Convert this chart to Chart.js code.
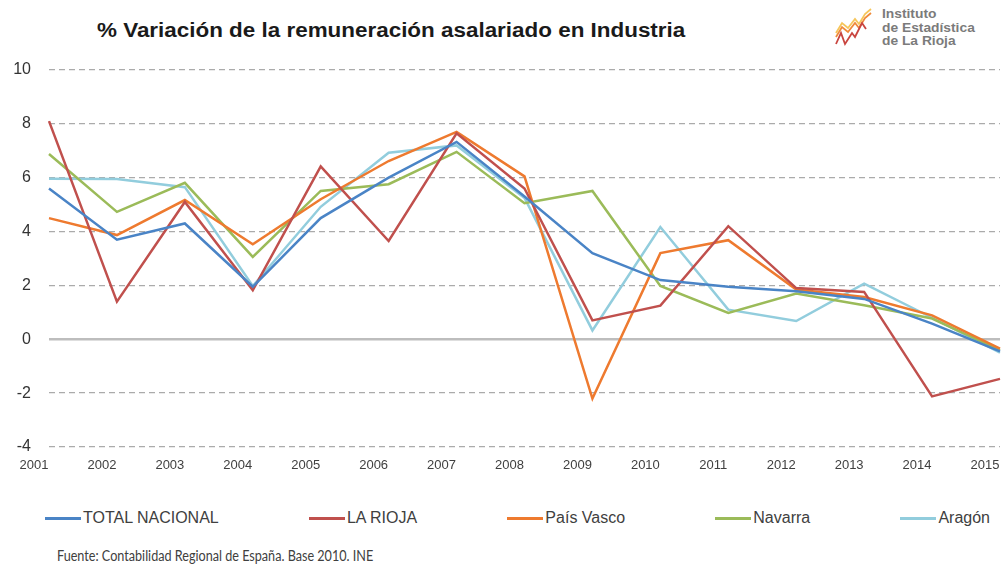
<!DOCTYPE html>
<html>
<head>
<meta charset="utf-8">
<script src="https://cdn.jsdelivr.net/npm/chart.js@4/dist/chart.umd.min.js"></script>
<style>
  body { margin: 0; background: #fff; font-family: "Liberation Sans", Arial, sans-serif; }
  #wrap { position: relative; width: 1002px; height: 567px; overflow: hidden; }
  #titulo { position: absolute; left: 97px; top: 19px; font-weight: bold; font-size: 19.5px; color: #1a1a1a;
            white-space: nowrap; transform: scaleX(1.15); transform-origin: left top; }
  #logo { position: absolute; left: 830px; top: 6px; width: 172px; height: 45px; }
  #logo .txt { position: absolute; left: 52px; top: 2px; font-weight: bold; font-size: 12px; line-height: 13.5px;
               color: #7b7b7b; white-space: nowrap; transform: scaleX(1.15); transform-origin: left top; }
  #grafico { position: absolute; left: 0; top: 0; width: 1002px; height: 494px; }
  #legenda { position: absolute; left: 45px; top: 509px; width: 945px; display: flex; justify-content: space-between; }
  #legenda .item { display: flex; align-items: center; font-size: 16px; color: #404040; white-space: nowrap; }
  #legenda .linha { width: 36px; height: 3px; margin-right: 2px; }
  #fonte { position: absolute; left: 57px; top: 547px; font-family: Lato, "Open Sans", sans-serif; font-size: 14.5px;
           color: #404040; white-space: nowrap; transform: scaleX(0.87); transform-origin: left top; }
</style>
</head>
<body>
<div id="wrap">
  <div id="titulo">% Variación de la remuneración asalariado en Industria</div>
  <div id="logo">
    <svg width="48" height="45" style="position:absolute;left:0;top:0">
      <polyline points="6,27 12,17 18,22 25,13 29,18 35,8 41,3" fill="none" stroke="#f6c65b" stroke-width="1.8"/>
      <polyline points="6,31 12,21 18,26 25,17 29,22 35,12 41,7" fill="none" stroke="#ef8a3a" stroke-width="1.8"/>
      <polyline points="6,38 11,27 15,38 22,27 25,31 32,17 36,23" fill="none" stroke="#c9453f" stroke-width="1.8"/>
    </svg>
    <div class="txt">Instituto<br>de Estadística<br>de La Rioja</div>
  </div>
  <div id="grafico"><canvas id="line-chart"></canvas></div>
  <div id="legenda"></div>
  <div id="fonte">Fuente: Contabilidad Regional de España. Base 2010. INE</div>
</div>

<script>
// datos
var anos = ['2001','2002','2003','2004','2005','2006','2007','2008','2009','2010','2011','2012','2013','2014','2015'];
var series = ['TOTAL NACIONAL', 'LA RIOJA', 'País Vasco', 'Navarra', 'Aragón'];

var totalNacional = [5.6, 3.7, 4.3, 1.95, 4.5, 6.0, 7.33, 5.3, 3.2, 2.2, 1.95, 1.78, 1.5, 0.58, -0.45];
var laRioja       = [8.1, 1.4, 5.1, 1.82, 6.42, 3.65, 7.65, 5.6, 0.7, 1.25, 4.2, 1.9, 1.76, -2.12, -1.47];
var paisVasco     = [4.5, 3.87, 5.17, 3.53, 5.2, 6.62, 7.7, 6.05, -2.2, 3.2, 3.68, 1.85, 1.57, 0.89, -0.35];
var navarra       = [6.88, 4.73, 5.81, 3.06, 5.51, 5.76, 6.96, 5.05, 5.51, 1.98, 0.98, 1.7, 1.26, 0.77, -0.4];
var aragon        = [5.96, 5.95, 5.65, 1.98, 4.92, 6.93, 7.2, 5.25, 0.33, 4.17, 1.1, 0.68, 2.07, 0.8, -0.5];

var yTicks = [-4, -2, 0, 2, 4, 6, 8, 10];

var colores = ['#4a84c6', '#c0504d', '#ee7a2f', '#9bbb59', '#92cddd'];
var valores = [totalNacional, laRioja, paisVasco, navarra, aragon];

var datasets = [];
$each = function(arr, fn) { for (var i = 0; i < arr.length; i++) fn(i, arr[i]); };
$each(series, (i, nombre) => {
    datasets.push({
        label: nombre,
        data: valores[i],
        borderColor: colores[i],
        backgroundColor: colores[i],
        borderWidth: 2.5,
        pointRadius: 0,
        tension: 0,
        fill: false
    });
});

var ctx = document.getElementById('line-chart');
var grafico = new Chart(ctx, {
    type: 'line',
    data: { labels: anos, datasets: datasets },
    options: {
        responsive: true,
        maintainAspectRatio: false,
        animation: false,
        layout: { padding: { top: 70, right: 2, left: 0, bottom: 0 } },
        plugins: {
            legend: { display: false },
            tooltip: { enabled: false }
        },
        scales: {
            x: {
                offset: false,
                grid: { display: false, drawTicks: false },
                border: { display: false },
                ticks: {
                    color: '#404040',
                    font: { family: 'Liberation Sans', size: 13 },
                    labelOffset: -15,
                    padding: 11,
                    maxRotation: 0,
                    autoSkip: false
                },
                afterFit: (scale) => {
                    scale.height = 47;
                    scale.paddingLeft = 0;
                    scale.paddingRight = 0;
                }
            },
            y: {
                min: -4,
                max: 10,
                afterBuildTicks: (scale) => {
                    scale.ticks = yTicks.map(v => ({ value: v }));
                },
                grid: {
                    drawTicks: false,
                    color: (c) => c.tick && c.tick.value === 0 ? '#bdbdbd' : '#ababab',
                    lineWidth: (c) => c.tick && c.tick.value === 0 ? 2.5 : 1.3
                },
                border: {
                    display: false,
                    dash: (c) => c.tick && c.tick.value === 0 ? [] : [6, 4]
                },
                ticks: {
                    color: '#333',
                    font: { family: 'Liberation Sans', size: 16 },
                    padding: 18
                },
                afterFit: (scale) => {
                    scale.width = 49;
                    scale.paddingTop = 0;
                    scale.paddingBottom = 0;
                }
            }
        }
    }
});

// leyenda en html, como en el original
var output = '';
$each(grafico.data.datasets, (i, ds) => {
    output += `<div class="item"><span class="linha" style="background:${ds.borderColor}"></span>${ds.label}</div>`;
});
document.getElementById('legenda').innerHTML = output;
</script>
</body>
</html>
